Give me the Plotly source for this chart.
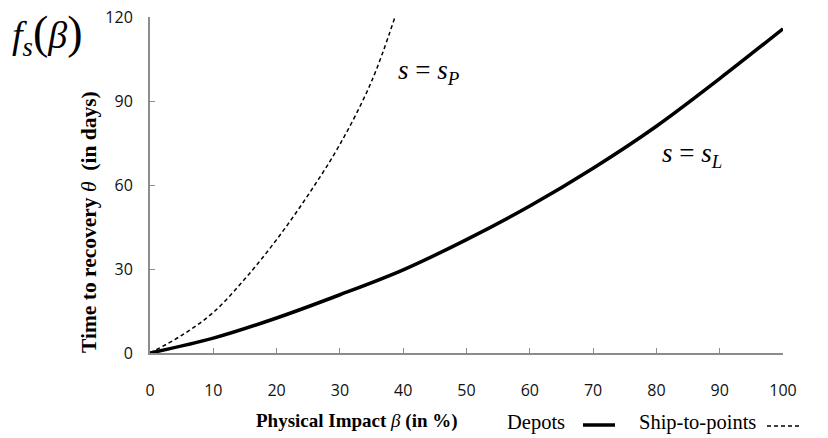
import plotly.graph_objects as go

# Physical impact beta (%) and time to recovery (days)
depots_x = [0, 10, 20, 30, 40, 50, 60, 70, 80, 90, 100]
depots_y = [0, 5.3, 12.5, 20.8, 29.7, 40.5, 52.5, 66, 81, 98, 115.8]

ship_x = [0, 5, 10, 15, 20, 25, 30, 35, 38.7]
ship_y = [0, 6.3, 14.5, 26.5, 40.5, 56.5, 74.5, 97, 120]

x_ticks = [0, 10, 20, 30, 40, 50, 60, 70, 80, 90, 100]
y_ticks = [0, 30, 60, 90, 120]

SERIF = "Liberation Serif, Times New Roman, serif"
SANS = "Open Sans, Noto Sans, sans-serif"

W, H = 828, 438
L, R, T, B = 150, 45, 17, 85
PW, PH = W - L - R, H - T - B


def px(xp):
    """page x pixel -> paper coordinate"""
    return (xp - L) / PW


def py(yp):
    """page y pixel -> paper coordinate"""
    return (H - B - yp) / PH


fig = go.Figure()
fig.add_trace(go.Scatter(x=depots_x, y=depots_y, mode="lines", name="Depots",
                         line=dict(color="black", width=3.5, shape="spline"),
                         showlegend=False, cliponaxis=True))
fig.add_trace(go.Scatter(x=ship_x, y=ship_y, mode="lines", name="Ship-to-points",
                         line=dict(color="black", width=1.5, dash="4px,3px", shape="spline"),
                         showlegend=False, cliponaxis=True))

axis_common = dict(showgrid=False, zeroline=False, showline=True, linecolor="#8c8c8c",
                   linewidth=2, ticks="inside", ticklen=5, tickcolor="#8c8c8c",
                   tickwidth=1, automargin=False,
                   tickfont=dict(family=SANS, size=16, color="#111"))
fig.update_xaxes(range=[0, 100], tickmode="array", tickvals=x_ticks,
                 ticklabelstandoff=22, **axis_common)
fig.update_yaxes(range=[0, 120], tickmode="array", tickvals=y_ticks,
                 ticklabelstandoff=12, **axis_common)

ann = [
    dict(text="<i>f</i><sub><i>s</i></sub><span style='font-size:46px'>(</span><i>β</i><span style='font-size:46px'>)</span>",
         x=px(10), y=py(34), xanchor="left", yanchor="middle",
         font=dict(family=SERIF, size=38, color="black")),
    dict(text="<b>Time to recovery </b><i>θ</i><b>  (in days)</b>",
         x=px(89), y=py(222), textangle=-90, xanchor="center", yanchor="middle",
         font=dict(family=SERIF, size=21.5, color="black")),
    dict(text="<b>Physical Impact </b><i>β</i><b> (in %)</b>",
         x=px(357), y=py(421), xanchor="center", yanchor="middle",
         font=dict(family=SERIF, size=19, color="black")),
    dict(text="<i>s</i> = <i>s</i><sub><i>P</i></sub>",
         x=px(429), y=py(72), xanchor="center", yanchor="middle",
         font=dict(family=SERIF, size=27, color="black")),
    dict(text="<i>s</i> = <i>s</i><sub><i>L</i></sub>",
         x=px(692), y=py(155), xanchor="center", yanchor="middle",
         font=dict(family=SERIF, size=27, color="black")),
    dict(text="Depots", x=px(536), y=py(422), xanchor="center", yanchor="middle",
         font=dict(family=SERIF, size=20.5, color="black")),
    dict(text="Ship-to-points", x=px(697), y=py(422), xanchor="center", yanchor="middle",
         font=dict(family=SERIF, size=20.5, color="black")),
]
for a in ann:
    a.update(xref="paper", yref="paper", showarrow=False)

shapes = [
    dict(type="line", xref="paper", yref="paper", x0=px(583), x1=px(615),
         y0=py(425), y1=py(425), line=dict(color="black", width=3.5)),
    dict(type="line", xref="paper", yref="paper", x0=px(767), x1=px(801),
         y0=py(426), y1=py(426), line=dict(color="black", width=1.5, dash="4px,3px")),
]

fig.update_layout(width=W, height=H, margin=dict(l=L, r=R, t=T, b=B),
                  plot_bgcolor="white", paper_bgcolor="white",
                  annotations=ann, shapes=shapes, showlegend=False)

fig.write_html("out.html", config={"displayModeBar": False},
               post_script="document.body.style.margin='0px';document.body.style.overflow='hidden';")
